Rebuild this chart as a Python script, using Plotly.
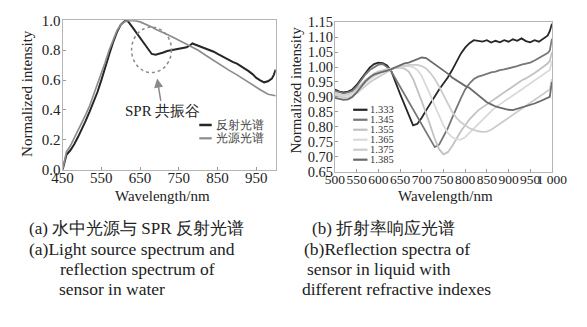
import plotly.graph_objects as go

# ---------------- data: panel (a) ----------------
wl_ref = [450, 455, 460, 470, 480, 490, 500, 510, 520, 530, 540, 550, 560, 570, 580, 590, 600, 610, 615, 620,
          630, 640, 650, 660, 670, 680, 690, 700, 710, 720, 730, 740, 750, 760, 770, 780, 785, 790, 800, 810,
          820, 830, 840, 850, 860, 870, 880, 890, 900, 910, 920, 930, 940, 950, 960, 970, 980, 990, 995, 1000]
reflect = [0.0, 0.06, 0.10, 0.13, 0.17, 0.22, 0.27, 0.33, 0.39, 0.45, 0.52, 0.60, 0.69, 0.77, 0.85, 0.92, 0.97, 0.995, 1.0, 0.99,
           0.955, 0.92, 0.885, 0.85, 0.81, 0.775, 0.77, 0.775, 0.785, 0.795, 0.80, 0.805, 0.81, 0.815, 0.82, 0.835, 0.845, 0.84, 0.83, 0.825,
           0.81, 0.80, 0.79, 0.775, 0.76, 0.75, 0.735, 0.72, 0.71, 0.695, 0.675, 0.66, 0.64, 0.615, 0.598, 0.585, 0.592, 0.61, 0.635, 0.67]

wl_src = [450, 460, 470, 480, 490, 500, 510, 520, 530, 540, 550, 560, 570, 580, 590, 600, 610, 620, 630, 640,
          650, 660, 670, 680, 690, 700, 720, 740, 760, 780, 800, 820, 840, 860, 880, 900, 920, 940, 960, 980, 1000]
source = [0.0, 0.12, 0.16, 0.21, 0.26, 0.31, 0.37, 0.43, 0.50, 0.57, 0.64, 0.72, 0.80, 0.87, 0.93, 0.97, 0.99, 1.0, 1.0, 0.997,
          0.99, 0.98, 0.965, 0.955, 0.94, 0.93, 0.905, 0.88, 0.855, 0.83, 0.80, 0.765, 0.73, 0.70, 0.665, 0.635, 0.60, 0.565, 0.535, 0.505, 0.495]

names_a = ["反射光谱", "光源光谱"]

# ---------------- data: panel (b) ----------------
wl_b = [500, 510, 520, 530, 540, 550, 560, 570, 580, 590, 600, 610, 620, 630, 640, 650, 660, 670, 680, 690,
        700, 710, 720, 730, 740, 750, 760, 770, 780, 790, 800, 810, 820, 830, 840, 850, 860, 870, 880, 890,
        900, 910, 920, 930, 940, 950, 960, 970, 980, 990, 995, 1000]

n1333 = [0.925, 0.918, 0.915, 0.918, 0.925, 0.94, 0.96, 0.98, 0.998, 1.01, 1.015, 1.013, 1.005, 0.985, 0.945, 0.91, 0.875, 0.84, 0.805, 0.81,
         0.83, 0.855, 0.88, 0.90, 0.925, 0.945, 0.965, 0.99, 1.02, 1.045, 1.065, 1.08, 1.09, 1.087, 1.085, 1.09, 1.082, 1.088, 1.083, 1.09,
         1.085, 1.093, 1.088, 1.096, 1.087, 1.083, 1.09, 1.085, 1.095, 1.105, 1.12, 1.145]
n1345 = [0.92, 0.915, 0.912, 0.915, 0.92, 0.935, 0.955, 0.975, 0.99, 1.0, 1.008, 1.01, 1.0, 0.985, 0.96, 0.935, 0.91, 0.88, 0.855, 0.83,
         0.805, 0.78, 0.755, 0.732, 0.74, 0.765, 0.795, 0.83, 0.865, 0.895, 0.925, 0.945, 0.96, 0.968, 0.972, 0.978, 0.982, 0.985, 0.99, 0.992,
         0.995, 1.0, 1.003, 1.008, 1.012, 1.015, 1.022, 1.03, 1.04, 1.047, 1.055, 1.095]
n1355 = [0.915, 0.908, 0.905, 0.907, 0.913, 0.925, 0.94, 0.955, 0.968, 0.978, 0.985, 0.99, 0.993, 0.995, 0.997, 0.998, 0.995, 0.985, 0.96, 0.925,
         0.885, 0.845, 0.80, 0.76, 0.725, 0.708, 0.715, 0.735, 0.76, 0.785, 0.805, 0.825, 0.84, 0.855, 0.865, 0.875, 0.885, 0.895, 0.905, 0.915,
         0.925, 0.935, 0.945, 0.955, 0.962, 0.97, 0.98, 0.99, 1.0, 1.012, 1.02, 1.05]
n1365 = [0.91, 0.905, 0.902, 0.904, 0.91, 0.92, 0.933, 0.946, 0.958, 0.968, 0.977, 0.985, 0.99, 0.995, 0.998, 1.0, 1.002, 1.003, 1.0, 0.99,
         0.97, 0.94, 0.905, 0.87, 0.835, 0.805, 0.78, 0.765, 0.758, 0.757, 0.765, 0.78, 0.795, 0.81, 0.825, 0.84, 0.852, 0.865, 0.875, 0.885,
         0.895, 0.905, 0.915, 0.925, 0.935, 0.945, 0.955, 0.965, 0.975, 0.985, 0.99, 1.02]
n1375 = [0.905, 0.90, 0.897, 0.898, 0.903, 0.912, 0.925, 0.937, 0.948, 0.958, 0.967, 0.976, 0.985, 0.992, 0.998, 1.002, 1.005, 1.007, 1.008, 1.007,
         1.003, 0.995, 0.98, 0.96, 0.935, 0.905, 0.875, 0.85, 0.83, 0.815, 0.805, 0.795, 0.79, 0.785, 0.783, 0.784, 0.79, 0.80, 0.81, 0.82,
         0.83, 0.84, 0.85, 0.86, 0.87, 0.88, 0.89, 0.90, 0.91, 0.918, 0.925, 0.96]
n1385 = [0.897, 0.893, 0.89, 0.892, 0.90, 0.915, 0.935, 0.952, 0.965, 0.975, 0.98, 0.983, 0.988, 0.993, 1.0, 1.007, 1.012, 1.015, 1.02, 1.025,
         1.032, 1.03, 1.02, 1.01, 0.998, 0.99, 0.978, 0.965, 0.955, 0.945, 0.937, 0.93, 0.918, 0.905, 0.893, 0.882, 0.875, 0.868, 0.864, 0.86,
         0.857, 0.856, 0.86, 0.864, 0.868, 0.872, 0.878, 0.884, 0.89, 0.895, 0.90, 0.95]

names_b = ["1.333", "1.345", "1.355", "1.365", "1.375", "1.385"]
series_b = [n1333, n1345, n1355, n1365, n1375, n1385]

xticks_a = [450, 550, 650, 750, 850, 950]
yticks_a = [0.0, 0.2, 0.4, 0.6, 0.8, 1.0]
xticks_b = [500, 550, 600, 650, 700, 750, 800, 850, 900, 950, 1000]
xticklabels_b = ["500", "550", "600", "650", "700", "750", "800", "850", "900", "950", "1 000"]
yticks_b = [0.65, 0.70, 0.75, 0.80, 0.85, 0.90, 0.95, 1.00, 1.05, 1.10, 1.15]

# ---------------- styling ----------------
W, H = 587, 327
FONT = "Liberation Serif"
colors_a = ["#262626", "#8c8c8c"]
widths_a = [2.0, 1.7]
colors_b = ["#262626", "#777777", "#c2c2c2", "#dadada", "#cccccc", "#6a6a6a"]
widths_b = [1.8, 1.8, 1.8, 1.8, 1.8, 1.8]


def px(x):
    return x / W


def py(y):
    return 1 - y / H


fig = go.Figure()

fig.add_trace(go.Scatter(x=wl_ref, y=reflect, mode="lines", name=names_a[0],
                         line=dict(color=colors_a[0], width=widths_a[0]), xaxis="x", yaxis="y", showlegend=False))
fig.add_trace(go.Scatter(x=wl_src, y=source, mode="lines", name=names_a[1],
                         line=dict(color=colors_a[1], width=widths_a[1]), xaxis="x", yaxis="y", showlegend=False))

for nm, s, c, w in zip(names_b, series_b, colors_b, widths_b):
    fig.add_trace(go.Scatter(x=wl_b, y=s, mode="lines", name=nm,
                             line=dict(color=c, width=w), xaxis="x2", yaxis="y2", showlegend=False))

axis_common = dict(showline=True, linecolor="#b5b5b5", linewidth=1, mirror=True,
                   ticks="inside", ticklen=3, tickcolor="#9a9a9a", showgrid=False, zeroline=False,
                   tickfont=dict(family=FONT, size=15, color="#222"), tickangle=0, ticklabeloverflow="allow")

fig.update_layout(
    width=W, height=H, autosize=False,
    margin=dict(l=0, r=0, t=0, b=0),
    paper_bgcolor="white", plot_bgcolor="white",
    font=dict(family=FONT, color="#222"),
    hovermode=False,
    xaxis=dict(domain=[px(54), px(277)], range=[450, 1000], tickvals=xticks_a, anchor="y",
               ticklabelstandoff=-6, **axis_common),
    yaxis=dict(domain=[py(170), py(13)], range=[0, 1.0], tickvals=yticks_a, tickformat=".1f", anchor="x",
               ticklabelstandoff=-2, **axis_common),
    xaxis2=dict(domain=[px(339), px(566)], range=[500, 1000], tickvals=xticks_b, ticktext=xticklabels_b, anchor="y2",
                ticklabelstandoff=-5,
                **{**axis_common, "tickfont": dict(family=FONT, size=13.5, color="#222")}),
    yaxis2=dict(domain=[py(172), py(15)], range=[0.65, 1.15], tickvals=yticks_b, tickformat=".2f", anchor="x2",
                ticklabelstandoff=-2,
                **{**axis_common, "tickfont": dict(family=FONT, size=14.5, color="#222")}),
)

shapes = []
ann = []

# dashed circle marking the SPR dip
shapes.append(dict(type="circle", xref="x", yref="y", x0=628, x1=731, y0=0.65, y1=0.955,
                   line=dict(color="#8a8a8a", width=1.5, dash="dot")))
# arrow
ann.append(dict(x=694, y=0.61, xref="x", yref="y", ax=704, ay=0.45, axref="x", ayref="y",
                text="", showarrow=True, arrowhead=2, arrowsize=1.2, arrowwidth=1.5, arrowcolor="#8a8a8a"))
ann.append(dict(x=px(159), y=py(108), xref="paper", yref="paper", text="SPR 共振谷", showarrow=False,
                font=dict(family=FONT, size=15, color="#222"), xanchor="center", yanchor="middle"))

# legend of panel (a)
for i, (nm, c, w) in enumerate(zip(names_a, colors_a, widths_a)):
    yy = 123 + i * 14
    shapes.append(dict(type="line", xref="paper", yref="paper", x0=px(197), x1=px(210), y0=py(yy), y1=py(yy),
                       line=dict(color=c, width=w + 0.5)))
    ann.append(dict(x=px(212), y=py(yy), xref="paper", yref="paper", text=nm, showarrow=False,
                    font=dict(family=FONT, size=12, color="#444"), xanchor="left", yanchor="middle"))

# legend of panel (b)
for i, (nm, c, w) in enumerate(zip(names_b, colors_b, widths_b)):
    yy = 107 + i * 10.5
    shapes.append(dict(type="line", xref="paper", yref="paper", x0=px(358), x1=px(373), y0=py(yy), y1=py(yy),
                       line=dict(color=c, width=w + 0.4)))
    ann.append(dict(x=px(373.5), y=py(yy), xref="paper", yref="paper", text=nm, showarrow=False,
                    font=dict(family=FONT, size=10.5, color="#333"), xanchor="left", yanchor="middle"))

# axis titles
for (x, y, t, ang) in [(16, 90, "Normalized intensity", -90), (298, 86, "Normalized intensity", -90),
                       (158, 198, "Wavelength/nm", 0), (455, 198, "Wavelength/nm", 0)]:
    ann.append(dict(x=px(x), y=py(y), xref="paper", yref="paper", text=t, showarrow=False, textangle=ang,
                    font=dict(family=FONT, size=15, color="#222"), xanchor="center", yanchor="middle"))

# captions
captions = [(17, 232, "(a) 水中光源与 SPR 反射光谱", 17), (313, 232, "(b) 折射率响应光谱", 17),
            (17, 253, "(a)Light source spectrum and", 17.5), (49, 274, "reflection spectrum of", 17.5),
            (48, 295, "sensor in water", 17.5),
            (305, 253, "(b)Reflection spectra of", 17.5), (308, 274, "sensor in liquid with", 17.5),
            (302, 295, "different refractive indexes", 17.5)]
for (x, y, t, fs) in captions:
    ann.append(dict(x=px(x), y=py(y), xref="paper", yref="paper", text=t, showarrow=False,
                    font=dict(family=FONT, size=fs, color="#222"), xanchor="left", yanchor="middle"))

fig.update_layout(shapes=shapes, annotations=ann)
fig.write_html("out.html", config={"displayModeBar": False, "staticPlot": True},
               post_script="document.body.style.margin='0';document.body.style.padding='0';"
                           "document.body.style.overflow='hidden';")
